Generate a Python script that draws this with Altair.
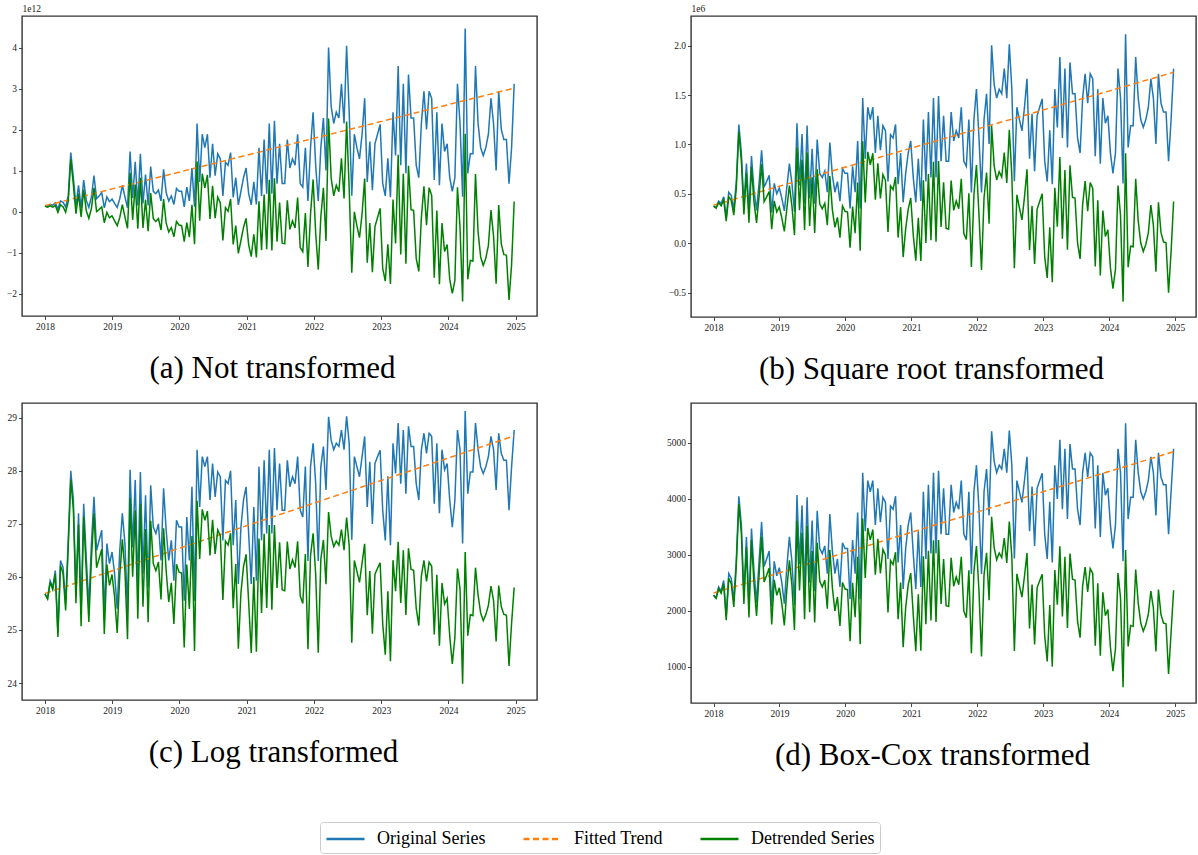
import numpy as np
import pandas as pd
import altair as alt

# Log-transformed series; the other panels show the same
# series on the raw, square-root and Box-Cox scales.
log_values = [
    25.68, 25.60, 25.93, 25.81, 26.12, 24.95, 26.31, 26.18, 25.50, 26.69,
    28.00, 27.45, 25.70, 27.20, 25.30, 27.38, 26.37, 25.43, 26.63, 27.51,
    26.50, 26.69, 26.88, 25.30, 26.63, 26.25, 26.47, 26.06, 25.40, 26.50,
    27.20, 26.63, 25.35, 28.02, 26.56, 27.83, 25.80, 27.98, 26.06, 27.54,
    25.80, 27.73, 26.94, 26.82, 27.00, 26.31, 27.67, 26.88, 26.31, 26.69,
    25.93, 27.07, 26.94, 26.94, 25.55, 27.13, 26.31, 27.70, 25.55, 28.40,
    27.32, 28.27, 28.08, 28.27, 27.45, 28.14, 27.51, 27.98, 27.89, 26.69,
    27.82, 27.76, 28.00, 26.60, 27.45, 25.87, 26.94, 27.45, 27.70, 26.82,
    25.87, 27.32, 25.93, 28.08, 26.69, 28.20, 26.82, 28.40, 26.82, 28.43,
    27.26, 28.14, 27.26, 27.26, 28.20, 27.70, 27.89, 27.76, 28.27, 27.26,
    27.13, 28.08, 26.30, 28.08, 28.52, 27.76, 26.30, 28.08, 28.46, 27.64,
    29.02, 28.58, 28.40, 28.52, 28.46, 28.77, 28.40, 29.03, 28.52, 26.70,
    28.27, 28.08, 27.89, 28.27, 28.65, 27.32, 28.17, 27.00, 28.14, 28.27,
    28.39, 27.26, 26.69, 27.90, 26.60, 28.52, 27.95, 28.90, 27.76, 28.77,
    27.57, 28.84, 28.46, 28.46, 27.76, 27.45, 28.40, 28.71, 28.33, 28.71,
    28.65, 27.38, 28.52, 27.20, 28.40, 28.02, 28.14, 27.45, 26.94, 27.45,
    28.77, 28.40, 26.63, 29.13, 27.57, 27.98, 27.98, 28.90, 28.40, 28.08,
    27.95, 28.08, 28.27, 28.65, 28.40, 27.64, 28.71, 28.33, 28.20, 28.20,
    27.26, 28.08, 28.77,
]
dates = pd.date_range("2018-01-01", periods=len(log_values), freq="14D")

series_names = ["Original Series", "Fitted Trend", "Detrended Series"]
series_colors = ["#1f77b4", "#ff7f0e", "#008000"]
series_dashes = [[1, 0], [6, 3.5], [1, 0]]

# Fitted linear trend: value at first and last date, per panel
trend_a = [0.15, 3.02]      # units of 1e12
trend_b = [0.385, 1.73]     # units of 1e6
trend_c = [25.69, 28.66]
trend_d = [2320.0, 4845.0]
boxcox_lambda = 0.2467

captions = ["(a) Not transformed", "(b) Square root transformed",
            "(c) Log transformed", "(d) Box-Cox transformed"]
year_ticks = list(range(2018, 2026))
yticks_a = [-2, -1, 0, 1, 2, 3, 4]
yticks_b = [-0.5, 0.0, 0.5, 1.0, 1.5, 2.0]
yticks_c = [24, 25, 26, 27, 28, 29]
yticks_d = [1000, 2000, 3000, 4000, 5000]

L = np.array(log_values)
orig_a = np.exp(L) / 1e12
orig_b = np.exp(L / 2) / 1e6
orig_c = L
orig_d = (np.exp(boxcox_lambda * L) - 1) / boxcox_lambda

xdom = [alt.DateTime(year=2017, month=8, date=29),
        alt.DateTime(year=2025, month=4, date=26)]

LABEL_FONT = "Liberation Serif"

legend = alt.Legend(
    orient="none", legendX=298, legendY=806, direction="horizontal",
    title=None, symbolType="M-1,0L2.62,0", symbolSize=441, symbolStrokeWidth=2.5,
    labelFont=LABEL_FONT, labelFontSize=18, labelColor="black",
    labelOffset=28, columnPadding=32, padding=5, strokeColor="#cccccc",
    cornerRadius=3, fillColor="white", labelLimit=400,
)


def panel(orig, tr, ydom, yticks, yfmt, offset_label, width, height, caption, cdx):
    orig = np.asarray(orig, dtype=float)
    n = len(orig)
    frac = np.arange(n) / (n - 1)
    trend_line = tr[0] + (tr[1] - tr[0]) * frac
    detr = orig - trend_line + tr[0]
    df_o = pd.DataFrame({"date": dates, "value": orig, "series": series_names[0]})
    df_t = pd.DataFrame({"date": [dates[0], dates[-1]], "value": tr,
                         "series": series_names[1]})
    df_d = pd.DataFrame({"date": dates, "value": detr, "series": series_names[2]})

    yaxis_args = dict(values=yticks, format=yfmt, labelFont=LABEL_FONT,
                      labelFontSize=9.5)
    if offset_label:
        yaxis_args.update(title=offset_label, titleAngle=0, titleX=0, titleY=-3,
                          titleAlign="left", titleBaseline="bottom",
                          titleFont=LABEL_FONT, titleFontSize=9.5,
                          titleFontWeight="normal", titleColor="#222")
    else:
        yaxis_args.update(title=None)

    x = alt.X("date:T", scale=alt.Scale(domain=xdom),
              axis=alt.Axis(values=[alt.DateTime(year=y, month=1, date=1) for y in year_ticks],
                            format="%Y", title=None, labelFont=LABEL_FONT,
                            labelFontSize=9.5))
    y = alt.Y("value:Q", scale=alt.Scale(domain=ydom, nice=False, zero=False),
              axis=alt.Axis(**yaxis_args))
    color = alt.Color("series:N", scale=alt.Scale(domain=series_names, range=series_colors),
                      legend=legend)
    dash = alt.StrokeDash("series:N", scale=alt.Scale(domain=series_names, range=series_dashes),
                          legend=legend)
    layers = [alt.Chart(df).mark_line(strokeWidth=1.5).encode(x=x, y=y, color=color, strokeDash=dash)
              for df in (df_o, df_t, df_d)]
    return alt.layer(*layers).properties(
        width=width, height=height,
        title=alt.TitleParams(text=caption, orient="bottom", anchor="middle",
                              font=LABEL_FONT, fontSize=31, fontWeight="normal",
                              color="black", offset=23, dx=cdx),
    )


pa = panel(orig_a, trend_a, [-2.54, 4.78], yticks_a, "d", "1e12", 515, 300, captions[0], -7)
pb = panel(orig_b, trend_b, [-0.746, 2.30], yticks_b, ".1f", "1e6", 505, 301, captions[1], -12)
pc = panel(orig_c, trend_c, [23.68, 29.28], yticks_c, "d", "", 515, 297, captions[2], -6)
pd_ = panel(orig_d, trend_d, [357, 5714], yticks_d, "d", "", 505, 300, captions[3], -11)

chart = alt.concat(
    pa, pb, pc, pd_, columns=2, bounds="flush",
    spacing={"row": 86, "column": 154},
).properties(
    padding={"left": 5, "top": 2, "right": 0, "bottom": 0},
    background="white",
).configure_view(
    stroke="#333333", strokeWidth=1.4
).configure_axis(
    domain=False, grid=False, tickSize=3.5, tickColor="#333333", tickWidth=0.9,
    labelColor="#222222", labelPadding=2
)

chart.save("out.html", embed_options={"renderer": "svg", "actions": False})
